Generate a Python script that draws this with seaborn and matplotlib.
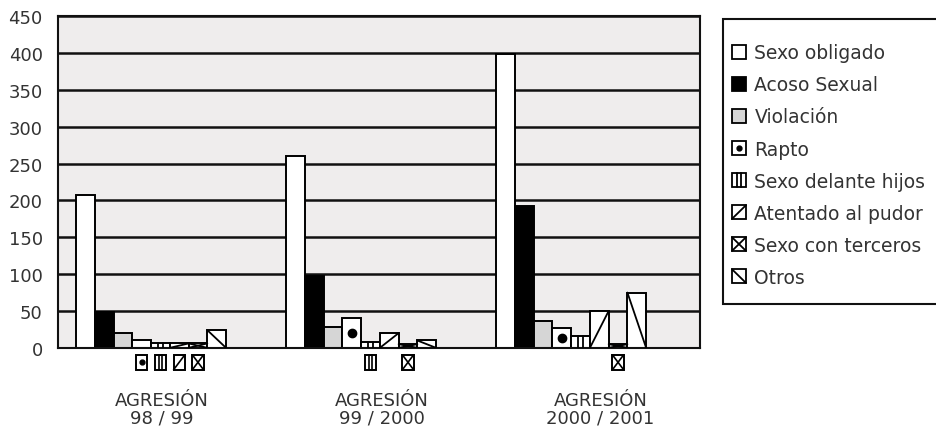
import numpy as np
import pandas as pd
import matplotlib.pyplot as plt
import matplotlib.transforms as mtransforms
from matplotlib.patches import Rectangle
from matplotlib.lines import Line2D
from matplotlib.legend_handler import HandlerBase
import seaborn as sns

# data
groups = ['AGRESIÓN\n98 / 99', 'AGRESIÓN\n99 / 2000', 'AGRESIÓN\n2000 / 2001']
categories = ['Sexo obligado', 'Acoso Sexual', 'Violación', 'Rapto',
              'Sexo delante hijos', 'Atentado al pudor', 'Sexo con terceros', 'Otros']
sexo_obligado = [207, 260, 398]
acoso_sexual = [48, 98, 193]
violacion = [20, 28, 37]
rapto = [10, 40, 27]
sexo_delante_hijos = [6, 8, 16]
atentado_pudor = [6, 20, 50]
sexo_terceros = [6, 5, 5]
otros = [24, 10, 75]

# small bars that get a key icon under the axis: (group, category)
icon_bars = [(0, 3), (0, 4), (0, 5), (0, 6), (1, 4), (1, 6), (2, 6)]

series = [sexo_obligado, acoso_sexual, violacion, rapto,
          sexo_delante_hijos, atentado_pudor, sexo_terceros, otros]
df = pd.DataFrame([(g, c, v) for c, vals in zip(categories, series)
                   for g, v in zip(groups, vals)],
                  columns=['grupo', 'tipo', 'valor'])

fills = ['white', 'black', '#d6d6d6', 'white', 'white', 'white', 'white', 'white']
glyphs = [None, None, None, 'dot', 'bars', 'up', 'cross', 'down']
text_col = '#333333'


def glyph_segments(x0, y0, w, h, kind):
    # line pieces drawn inside a box, like the printed pattern keys
    if kind == 'bars':
        return [([x0 + w * 0.38] * 2, [y0, y0 + h]), ([x0 + w * 0.62] * 2, [y0, y0 + h])]
    if kind == 'up':
        return [([x0, x0 + w], [y0, y0 + h])]
    if kind == 'down':
        return [([x0, x0 + w], [y0 + h, y0])]
    if kind == 'cross':
        return [([x0, x0 + w], [y0, y0 + h]), ([x0, x0 + w], [y0 + h, y0])]
    return []


class KeyBox:
    def __init__(self, fill, kind):
        self.fill = fill
        self.kind = kind


class KeyHandler(HandlerBase):
    def create_artists(self, legend, orig_handle, xdescent, ydescent, width, height,
                       fontsize, trans):
        x0, y0 = -xdescent, -ydescent
        arts = [Rectangle((x0, y0), width, height, facecolor=orig_handle.fill,
                          edgecolor='black', linewidth=1.3, transform=trans)]
        for xs, ys in glyph_segments(x0, y0, width, height, orig_handle.kind):
            arts.append(Line2D(xs, ys, color='black', linewidth=1.3, transform=trans))
        if orig_handle.kind == 'dot':
            arts.append(Line2D([x0 + width / 2], [y0 + height / 2], marker='o', ms=3.5,
                               color='black', ls='none', transform=trans))
        return arts


sns.set_style('white')
plt.rcParams['font.family'] = ['DejaVu Sans']

fig = plt.figure(figsize=(9.36, 4.27), dpi=100)
ax = fig.add_axes([0.062, 0.183, 0.686, 0.777])
ax.set_facecolor('#efeded')

sns.barplot(data=df, x='grupo', y='valor', hue='tipo', hue_order=categories,
            palette=fills, width=0.714, saturation=1, edgecolor='black',
            linewidth=1.4, ax=ax, legend=False)

# patterns inside the bars
for cont, kind in zip(ax.containers, glyphs):
    for p in cont:
        x0, w, h = p.get_x(), p.get_width(), p.get_height()
        for xs, ys in glyph_segments(x0, 0, w, h, kind):
            ax.plot(xs, ys, color='black', lw=1.3, zorder=4)
        if kind == 'dot' and h > 20:
            ax.plot(x0 + w / 2, h / 2, 'o', color='black', ms=6, zorder=5)

# little key icons under the smallest bars
trans = mtransforms.blended_transform_factory(ax.transData, ax.transAxes)
ib, ih = -0.066, 0.045
for g, c in icon_bars:
    p = ax.containers[c][g]
    w = p.get_width()
    x0 = p.get_x() + w * 0.2
    ax.add_patch(Rectangle((x0, ib), w * 0.6, ih, transform=trans,
                           facecolor=fills[c], edgecolor='black', linewidth=1.4,
                           clip_on=False, zorder=5))
    for xs, ys in glyph_segments(x0, ib, w * 0.6, ih, glyphs[c]):
        ax.plot(xs, ys, color='black', lw=1.2, transform=trans, clip_on=False, zorder=6)
    if glyphs[c] == 'dot':
        ax.plot(p.get_x() + w / 2, ib + ih / 2, 'o', color='black', ms=3.5,
                transform=trans, clip_on=False, zorder=6)

ax.set_ylim(0, 450)
ax.set_yticks(np.arange(0, 451, 50))
ax.set_xlim(-0.443, 2.614)
ax.set_xticks(np.arange(len(groups)) + np.array([0.05, 0.1, 0.14]))
ax.set_xticklabels(groups, fontsize=13, color=text_col, linespacing=0.95)
ax.tick_params(axis='x', length=0, pad=31)
ax.tick_params(axis='y', length=0, pad=11, labelsize=13, labelcolor=text_col)
ax.set_xlabel('')
ax.set_ylabel('')
ax.yaxis.grid(True, color='#111111', linewidth=1.8)
ax.set_axisbelow(True)
for s in ax.spines.values():
    s.set_color('#111111')
    s.set_linewidth(1.5)

# legend frame runs past the right edge, as in the print
fig.patches.append(Rectangle((723 / 936, 122 / 427), 0.3, 285 / 427,
                             transform=fig.transFigure, facecolor='white',
                             edgecolor='#111111', linewidth=1.5, zorder=0))
handles = [KeyBox(f, k) for f, k in zip(fills, glyphs)]
leg = fig.legend(handles, categories, loc='upper left', bbox_to_anchor=(0.782, 0.896),
                 frameon=False, fontsize=13.5, handlelength=0.75, handleheight=0.75,
                 handletextpad=0.45, labelspacing=0.695, borderpad=0, borderaxespad=0,
                 handler_map={KeyBox: KeyHandler()})
for t in leg.get_texts():
    t.set_color(text_col)

fig.savefig('out.png', dpi=100)
